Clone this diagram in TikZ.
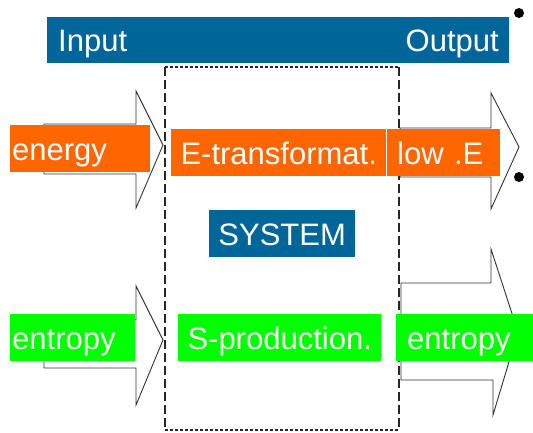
\documentclass[tikz,border=0pt]{standalone}
\usepackage{fontspec}
\setmainfont{Liberation Sans}
\usetikzlibrary{positioning}
\definecolor{sysblue}{HTML}{006699}
\definecolor{eorange}{HTML}{FF6600}
\definecolor{sgreen}{HTML}{00FF00}
\tikzset{%
	every box/.style={
		anchor=north west,
		text=white,
		font=\fontsize{31}{36}\selectfont,
		minimum height=47pt,
		text height=23pt,
		text depth=0pt,
		inner ysep=0pt
	},
	left box/.style={
		every box,
		align=left,
		inner xsep=#1
	},
	fat arrow/.style={
		draw=black!80,
		fill=white,
		line width=0.9pt,
		line join=miter
	},
	border/.style={
		draw=black!85,
		line width=1.1pt
	},
}

\begin{document}
\begin{tikzpicture}[x=1pt, y=-1pt]
	\useasboundingbox (0,0) rectangle (533,433);
	% arrows behind the labels
	\draw[fat arrow] (44,124) -- (136,124) -- (136,91) -- (163,145) -- (136,208) -- (136,174) -- (44,174) -- cycle;
	\draw[fat arrow] (400,128) -- (491,128) -- (491,93) -- (519,147) -- (491,209) -- (491,177) -- (400,177) -- cycle;
	\draw[fat arrow] (44,320) -- (136,320) -- (136,286) -- (163,340) -- (136,405) -- (136,368) -- (44,368) -- cycle;
	\draw[fat arrow] (401,283) -- (491,283) -- (491,249) -- (518,332) -- (493,415) -- (493,380) -- (401,380) -- cycle;
	% system border
	\draw[border, dash pattern=on 3pt off 2pt] (165,67) -- (399,67) (165,430) -- (399,430);
	\draw[border, dash pattern=on 9pt off 4pt] (165,67) -- (165,430) (399,67) -- (399,430);
	% header bar
	\node[fill=sysblue, anchor=north west, minimum width=462pt, minimum height=46pt, inner sep=0pt] (bar) at (47,17) {};
	\node[every box, anchor=base west, inner xsep=0pt] (input) at (58,52) {Input};
	\node[every box, anchor=base east, inner xsep=0pt] (output) at (499,52) {Output};
	\fill (519,13) circle (5pt);
	\fill (519,177) circle (5pt);
	% energy row
	\node[left box=2pt, fill=eorange, text width=136pt] (energy) at (10,125) {energy};
	\node[every box, fill=eorange, minimum width=215pt, inner xsep=0pt] (etrans) at (171,129) {E-transformat.};
	\node[left box=10pt, fill=eorange, text width=93pt] (lowE) at (387,129) {low .E};
	% system
	\node[every box, fill=sysblue, minimum width=146pt, inner xsep=0pt] (system) at (209,210) {SYSTEM};
	% entropy row
	\node[left box=2pt, fill=sgreen, text width=121pt] (entropyin) at (10,314) {entropy};
	\node[every box, fill=sgreen, minimum width=203pt, inner xsep=0pt] (sprod) at (178,314) {S-production.};
	\node[left box=11pt, fill=sgreen, text width=115pt] (entropyout) at (396,314) {entropy};
\end{tikzpicture}
\end{document}
